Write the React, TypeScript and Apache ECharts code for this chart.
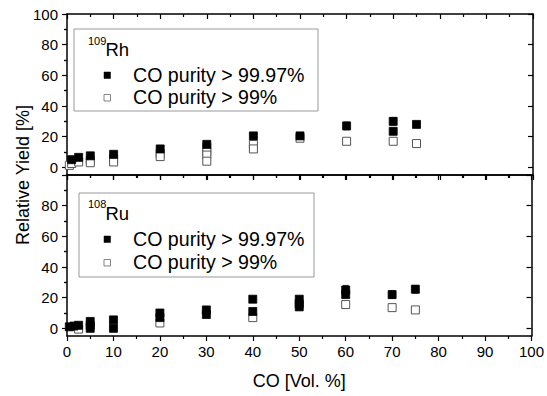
import React, { useEffect, useRef } from "react";
import * as echarts from "echarts";

// Relative yield of 109Rh vs CO content [x (Vol. %), y (%)]
const rhPure: number[][] = [
  [1, 5], [2.5, 6.5], [5, 7.5], [10, 8.5], [20, 12], [30, 15], [40, 20.5],
  [50, 20.5], [60, 27], [70, 30], [70, 23.5], [75, 28],
];
const rhLow: number[][] = [
  [0.5, 1.3], [1, 2.5], [2.5, 3.5], [5, 4.5], [5, 3], [10, 5.5], [10, 3.5],
  [20, 9], [20, 7], [30, 13], [30, 10], [30, 8], [30, 4], [40, 15], [40, 12],
  [50, 19], [60, 17], [70, 17], [75, 15.5],
];
// Relative yield of 108Ru
const ruPure: number[][] = [
  [0.5, 1], [1.5, 1.5], [2.5, 2], [5, 4.5], [5, 2], [5, 0], [10, 5.5], [10, 0],
  [20, 10], [20, 7], [30, 12], [30, 9], [40, 19], [40, 11], [50, 19], [50, 16],
  [50, 14], [60, 25], [60, 22], [70, 22], [75, 25.5],
];
const ruLow: number[][] = [
  [2.5, -0.5], [20, 3.5], [40, 7], [60, 15.5], [70, 13.5], [75, 12],
];
// error bars [x, y, err]
const rhErr: number[][] = [[60, 27, 2.5], [70, 30, 2.5], [70, 23.5, 2], [75, 28, 1.8], [50, 20.5, 1.2]];
const ruErr: number[][] = [[60, 25, 3], [70, 22, 2.5], [75, 25.5, 2.5], [50, 19, 1.5]];

const yMajorTicks = [0, 20, 40, 60, 80, 100];
const yMinorTicks = [10, 30, 50, 70, 90];
const rhLabels = [0, 20, 40, 60, 80, 100];
const ruLabels = [0, 20, 40, 60, 80];
const seriesNames = ["CO purity > 99.97%", "CO purity > 99%"];

const FONT = "Liberation Sans, Arial, sans-serif";
const line = { color: "#000", width: 1.5 };

function xAxes(grid: number, labels: boolean) {
  const base = {
    type: "value",
    gridIndex: grid,
    min: 0,
    max: 100,
    interval: 10,
    splitLine: { show: false },
    axisLine: { show: true, onZero: false, lineStyle: line },
    minorTick: { show: true, splitNumber: 2, length: 3, lineStyle: { color: "#000", width: 1.2 } },
  };
  return [
    {
      ...base,
      position: "bottom",
      axisTick: { show: true, inside: false, length: 5, lineStyle: { color: "#000", width: 1.2 } },
      axisLabel: { show: labels, fontSize: 15, color: "#000", fontFamily: FONT, margin: 8 },
      name: labels ? "CO [Vol. %]" : "",
      nameLocation: "middle",
      nameGap: 36,
      nameTextStyle: { fontSize: 18, color: "#000", fontFamily: FONT },
    },
    {
      ...base,
      position: "top",
      axisTick: { show: true, inside: true, length: 5, lineStyle: { color: "#000", width: 1.2 } },
      axisLabel: { show: false },
    },
  ];
}

function yAxes(grid: number, labels: number[]) {
  const base = {
    type: "value",
    gridIndex: grid,
    min: -5,
    max: 100,
    splitLine: { show: false },
  };
  const tl = { color: "#000", width: 1.2 };
  return [
    {
      ...base,
      position: "left",
      axisLine: { show: true, onZero: false, lineStyle: line },
      axisTick: { show: true, inside: false, length: 5, customValues: yMajorTicks, lineStyle: tl },
      axisLabel: { show: true, customValues: labels, fontSize: 15, color: "#000", fontFamily: FONT, margin: 9 },
    },
    {
      ...base,
      position: "left",
      axisLine: { show: false },
      axisTick: { show: true, inside: false, length: 3, customValues: yMinorTicks, lineStyle: tl },
      axisLabel: { show: false },
    },
    {
      ...base,
      position: "right",
      axisLine: { show: true, onZero: false, lineStyle: line },
      axisTick: { show: true, inside: true, length: 5, customValues: yMajorTicks, lineStyle: tl },
      axisLabel: { show: false },
    },
    {
      ...base,
      position: "right",
      axisLine: { show: false },
      axisTick: { show: true, inside: true, length: 3, customValues: yMinorTicks, lineStyle: tl },
      axisLabel: { show: false },
    },
  ];
}

function errSeries(data: number[][], xi: number, yi: number) {
  return {
    type: "custom",
    xAxisIndex: xi,
    yAxisIndex: yi,
    data,
    encode: { x: 0, y: 1 },
    z: 1,
    renderItem: (_p: any, api: any) => {
      const x = api.value(0);
      const y = api.value(1);
      const e = api.value(2);
      const t = api.coord([x, y + e]);
      const b = api.coord([x, y - e]);
      const st = { stroke: "#333", lineWidth: 1 };
      return {
        type: "group",
        children: [
          { type: "line", shape: { x1: t[0], y1: t[1], x2: b[0], y2: b[1] }, style: st },
          { type: "line", shape: { x1: t[0] - 3, y1: t[1], x2: t[0] + 3, y2: t[1] }, style: st },
          { type: "line", shape: { x1: b[0] - 3, y1: b[1], x2: b[0] + 3, y2: b[1] }, style: st },
        ],
      };
    },
  };
}

function scatter(name: string, data: number[][], xi: number, yi: number, filled: boolean) {
  return {
    type: "scatter",
    name,
    xAxisIndex: xi,
    yAxisIndex: yi,
    data,
    symbol: "rect",
    symbolSize: 8,
    z: filled ? 3 : 2,
    itemStyle: filled
      ? { color: "#000", borderColor: "#000", borderWidth: 0.8, opacity: 1 }
      : { color: "#fff", borderColor: "#555", borderWidth: 1, opacity: 1 },
  };
}

function legendBox(x: number, y: number, w: number, h: number, sup: string, el: string,
  supBase: number, elBase: number, row1: number, row2: number) {
  const tx = (text: string, px: number, py: number, size: number) => ({
    type: "text",
    x: px,
    y: py,
    z: 10,
    style: {
      text,
      fontSize: size,
      fontFamily: FONT,
      fill: "#000",
      align: "left",
      verticalAlign: "middle",
      textAlign: "left",
      textVerticalAlign: "middle",
    },
  });
  return [
    { type: "rect", z: 9, shape: { x, y, width: w, height: h }, style: { fill: "#fff", stroke: "#999", lineWidth: 1 } },
    tx(sup, 88, supBase, 11),
    tx(el, 105.5, elBase, 18.5),
    { type: "rect", z: 10, shape: { x: 104, y: row1 - 3, width: 6.5, height: 6.5 }, style: { fill: "#000", stroke: "#000", lineWidth: 0.5 } },
    { type: "rect", z: 10, shape: { x: 104, y: row2 - 3, width: 6.5, height: 6.5 }, style: { fill: "#fff", stroke: "#666", lineWidth: 0.8 } },
    tx(seriesNames[0], 133, row1 - 0.5, 19.6),
    tx(seriesNames[1], 133, row2 - 0.5, 19.6),
  ];
}

export default function App() {
  const ref = useRef<HTMLDivElement>(null);
  useEffect(() => {
    document.body.style.margin = "0";
    if (!ref.current) return;
    const chart = echarts.init(ref.current, null, { renderer: "svg" });
    const option: any = {
      animation: false,
      backgroundColor: "#fff",
      grid: [
        { left: 67, top: 14, width: 466, height: 161 },
        { left: 67, top: 175, width: 466, height: 161 },
      ],
      xAxis: [...xAxes(0, false), ...xAxes(1, true)],
      yAxis: [...yAxes(0, rhLabels), ...yAxes(1, ruLabels)],
      series: [
        errSeries(rhErr, 0, 0),
        scatter(seriesNames[1], rhLow, 0, 0, false),
        scatter(seriesNames[0], rhPure, 0, 0, true),
        errSeries(ruErr, 2, 4),
        scatter(seriesNames[1], ruLow, 2, 4, false),
        scatter(seriesNames[0], ruPure, 2, 4, true),
      ],
      graphic: [
        ...legendBox(74, 29, 244, 82, "109", "Rh", 41, 49, 75, 97.5),
        ...legendBox(79, 193, 235, 84, "108", "Ru", 204, 213, 239, 262.5),
        {
          type: "text",
          x: 23,
          y: 175,
          rotation: Math.PI / 2,
          style: {
            text: "Relative Yield [%]",
            fontSize: 18,
            fontFamily: FONT,
            fill: "#000",
            align: "center",
            verticalAlign: "middle",
            textAlign: "center",
            textVerticalAlign: "middle",
          },
        },
      ],
    };
    chart.setOption(option);
    return () => chart.dispose();
  }, []);
  return <div ref={ref} style={{ width: 547, height: 396 }} />;
}
